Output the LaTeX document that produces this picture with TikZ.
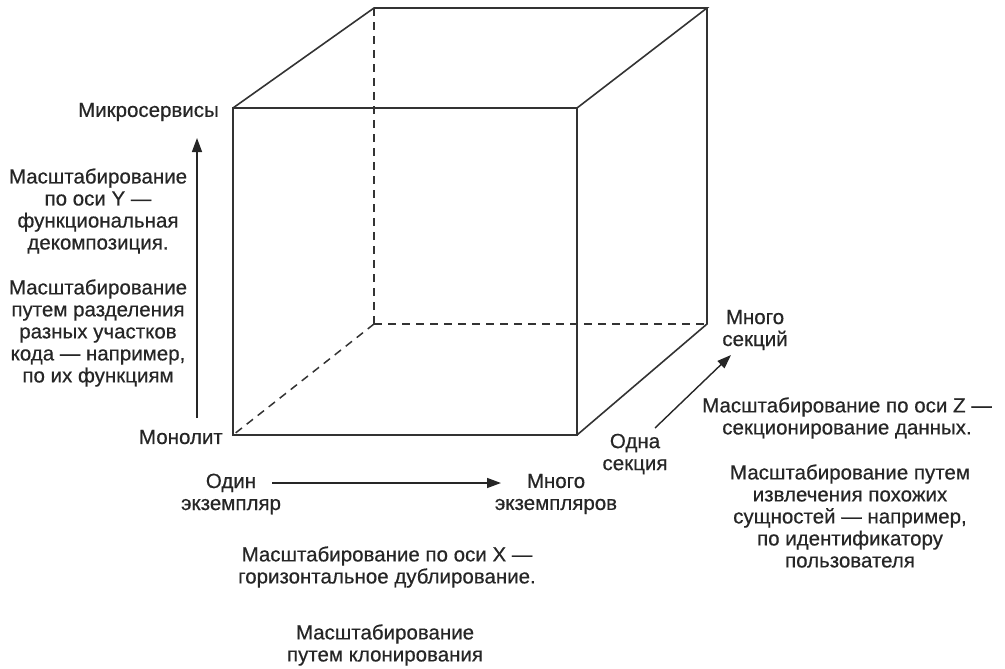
\documentclass[tikz,border=0pt]{standalone}
\usepackage{fontspec}
\setmainfont{Liberation Sans}[FakeBold=0.5]
\usetikzlibrary{arrows.meta}
\begin{document}
\begin{tikzpicture}[x=1pt,y=-1pt,
  edge/.style={draw=black!80,line width=1.6pt},
  hidden/.style={draw=black!80,line width=1.5pt,dash pattern=on 8pt off 6pt},
  axis/.style={draw=black!85,line width=1.4pt,-{Triangle[length=14pt,width=10pt]}},
  lbl/.style={inner sep=0pt,align=center,text=black!85,font=\fontsize{20.5}{22}\selectfont}]
\useasboundingbox (0,0) rectangle (1005,669);
% cube corners
\coordinate (fbl) at (233,435);
\coordinate (fbr) at (577,435);
\coordinate (ftl) at (233,108);
\coordinate (ftr) at (577,108);
\coordinate (bbl) at (374,324);
\coordinate (bbr) at (707,324);
\coordinate (btl) at (374,8);
\coordinate (btr) at (707,8);
% hidden edges
\draw[hidden] (bbl) -- (btl);
\draw[hidden] (bbl) -- (bbr);
\draw[hidden] (bbl) -- (fbl);
% visible edges
\draw[edge] (ftl) -- (ftr) -- (fbr) -- (fbl) -- cycle;
\draw[edge] (ftl) -- (btl) -- (btr) -- (ftr);
\draw[edge] (btr) -- (bbr) -- (fbr);
% Y axis
\coordinate (ys) at (197,418);
\coordinate (ye) at (197,138);
\draw[axis] (ys) -- (ye);
\node[lbl,anchor=east] (micro) at (219,112) {Микросервисы};
\node[lbl,anchor=east] (mono) at (223,437) {Монолит};
\node[lbl] (ytext1) at (98,211) {Масштабирование\\по оси Y —\\функциональная\\декомпозиция.};
\node[lbl] (ytext2) at (98,333) {Масштабирование\\путем разделения\\разных участков\\кода — например,\\по их функциям};
% X axis
\coordinate (xs) at (272,483);
\coordinate (xe) at (501,483);
\draw[axis] (xs) -- (xe);
\node[lbl] (one) at (231,494) {Один\\экземпляр};
\node[lbl] (many) at (556,494) {Много\\экземпляров};
\node[lbl] (xtext1) at (387,567) {Масштабирование по оси X —\\горизонтальное дублирование.};
\node[lbl] (xtext2) at (385,645) {Масштабирование\\путем клонирования};
% Z axis
\coordinate (zs) at (655,428);
\coordinate (ze) at (731,355);
\draw[axis] (zs) -- (ze);
\node[lbl] (zmany) at (755,330) {Много\\секций};
\node[lbl] (zone) at (635,454) {Одна\\секция};
\node[lbl] (ztext1) at (847,418) {Масштабирование по оси Z —\\секционирование данных.};
\node[lbl] (ztext2) at (850,516) {Масштабирование путем\\извлечения похожих\\сущностей — например,\\по идентификатору\\пользователя};
\end{tikzpicture}
\end{document}
